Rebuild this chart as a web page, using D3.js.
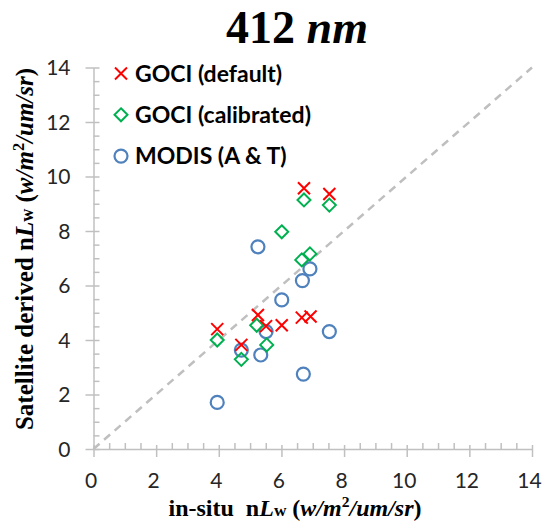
<!DOCTYPE html>
<html>
<head>
<meta charset="utf-8">
<script src="https://cdn.jsdelivr.net/npm/d3@7"></script>
<style>
  body { margin: 0; background: #fff; }
  svg { display: block; }
  .tick text { font-family: Lato, "Open Sans", sans-serif; font-size: 21px; fill: #262626; }
  .axis path, .axis line { stroke: #c0c0c0; stroke-width: 1.5; }
</style>
</head>
<body>
<div id="chart"></div>
<script>
// data
var seriesNames = ['GOCI (default)', 'GOCI (calibrated)', 'MODIS (A & T)'];
var insituDefault = [6.72, 7.53, 3.95, 4.72, 5.25, 5.51, 6.01, 6.65, 6.93];
var satDefault    = [9.57, 9.36, 4.40, 3.82, 4.92, 4.51, 4.54, 4.82, 4.86];
var insituCalib   = [6.72, 7.53, 6.01, 6.65, 6.91, 3.95, 4.72, 5.21, 5.53];
var satCalib      = [9.14, 8.95, 7.97, 6.94, 7.16, 4.00, 3.29, 4.54, 3.82];
var insituModis   = [5.25, 6.91, 6.67, 6.01, 5.51, 7.53, 4.72, 5.34, 6.70, 3.95];
var satModis      = [7.42, 6.61, 6.18, 5.47, 4.31, 4.31, 3.63, 3.45, 2.75, 1.71];
var majorTicks = [0, 2, 4, 6, 8, 10, 12, 14];
var axisMax = 14;

var W = 549, H = 526;
var plotLeft = 93.5, plotRight = 532, plotTop = 67.5, plotBottom = 449;

var svg = d3.select('#chart').append('svg')
  .attr('width', W)
  .attr('height', H);

var x = d3.scaleLinear().domain([0, axisMax]).range([plotLeft, plotRight]);
var y = d3.scaleLinear().domain([0, axisMax]).range([plotBottom, plotTop]);

var minorTicks = d3.range(0, axisMax + 0.01, 0.5).filter(function(v) { return v % 2 !== 0; });

// minor ticks (inside)
svg.append('g')
  .attr('class', 'axis')
  .attr('transform', 'translate(0,' + plotBottom + ')')
  .call(d3.axisTop(x).tickValues(minorTicks).tickSize(6).tickSizeOuter(0).tickFormat(''))
  .select('.domain').remove();
svg.append('g')
  .attr('class', 'axis')
  .attr('transform', 'translate(' + plotLeft + ',0)')
  .call(d3.axisRight(y).tickValues(minorTicks).tickSize(6).tickSizeOuter(0).tickFormat(''))
  .select('.domain').remove();

// major axes
var gx = svg.append('g')
  .attr('class', 'axis')
  .attr('transform', 'translate(0,' + plotBottom + ')')
  .call(d3.axisBottom(x).tickValues(majorTicks).tickSize(8).tickSizeOuter(0).tickPadding(16));
gx.selectAll('.tick line').attr('y1', -4);
gx.selectAll('.tick text').attr('dx', -3);

var gy = svg.append('g')
  .attr('class', 'axis')
  .attr('transform', 'translate(' + plotLeft + ',0)')
  .call(d3.axisLeft(y).tickValues(majorTicks).tickSize(8).tickSizeOuter(0).tickPadding(15));
gy.selectAll('.tick line').attr('x1', 6);
gy.selectAll('.tick text').attr('dy', '0.34em');

// 1:1 line
svg.append('line')
  .attr('x1', x(0)).attr('y1', y(0))
  .attr('x2', x(axisMax)).attr('y2', y(axisMax))
  .attr('stroke', '#bfbfbf')
  .attr('stroke-width', 2.5)
  .attr('stroke-dasharray', '8,6');

// markers
function cross(g, cx, cy) {
  var s = 6;
  g.append('path')
    .attr('d', 'M' + (cx - s) + ',' + (cy - s) + 'L' + (cx + s) + ',' + (cy + s) +
               'M' + (cx - s) + ',' + (cy + s) + 'L' + (cx + s) + ',' + (cy - s))
    .attr('stroke', '#ff0000').attr('stroke-width', 2).attr('fill', 'none');
}
function diamond(g, cx, cy) {
  var s = 6.5;
  g.append('path')
    .attr('d', 'M' + cx + ',' + (cy - s) + 'L' + (cx + s) + ',' + cy + 'L' + cx + ',' + (cy + s) + 'L' + (cx - s) + ',' + cy + 'Z')
    .attr('stroke', '#00b050').attr('stroke-width', 2).attr('fill', 'none');
}
function circle(g, cx, cy) {
  g.append('circle')
    .attr('cx', cx).attr('cy', cy).attr('r', 6.5)
    .attr('stroke', '#4f81bd').attr('stroke-width', 2.2).attr('fill', 'none');
}

var pts = svg.append('g');
insituModis.forEach(function(v, i) { circle(pts, x(v), y(satModis[i])); });
insituCalib.forEach(function(v, i) { diamond(pts, x(v), y(satCalib[i])); });
insituDefault.forEach(function(v, i) { cross(pts, x(v), y(satDefault[i])); });

// legend
var markers = [cross, diamond, circle];
var legend = svg.append('g');
seriesNames.forEach(function(name, i) {
  var cy = 73.5 + i * 41.3;
  markers[i](legend, 121, cy);
  legend.append('text')
    .attr('x', 135).attr('y', cy + 8)
    .attr('font-family', 'Lato, "Open Sans", sans-serif')
    .attr('font-weight', 'bold')
    .attr('font-size', 23)
    .attr('fill', '#000')
    .text(name);
});

// title
var title = svg.append('text')
  .attr('x', 297).attr('y', 43)
  .attr('text-anchor', 'middle')
  .attr('font-family', '"Liberation Serif", "Times New Roman", serif')
  .attr('font-weight', 'bold')
  .attr('font-size', 46);
title.append('tspan').text('412 ');
title.append('tspan').attr('font-style', 'italic').text('nm');

// axis titles
function unitLabel(t) {
  t.append('tspan').text('n');
  t.append('tspan').attr('font-style', 'italic').text('L');
  t.append('tspan').attr('font-size', '0.72em').text('w');
  t.append('tspan').text(' (');
  t.append('tspan').attr('font-style', 'italic').text('w/m');
  t.append('tspan').attr('font-size', '0.65em').attr('dy', '-0.55em').text('2');
  t.append('tspan').attr('font-style', 'italic').attr('dy', '0.36em').text('/um/sr');
  t.append('tspan').text(')');
}

var xt = svg.append('text')
  .attr('x', 295).attr('y', 516)
  .attr('text-anchor', 'middle')
  .attr('font-family', '"Liberation Serif", "Times New Roman", serif')
  .attr('font-weight', 'bold')
  .attr('font-size', 24);
xt.append('tspan').text('in-situ\u00a0\u00a0');
unitLabel(xt);

var yt = svg.append('text')
  .attr('transform', 'translate(33,249) rotate(-90)')
  .attr('text-anchor', 'middle')
  .attr('font-family', '"Liberation Serif", "Times New Roman", serif')
  .attr('font-weight', 'bold')
  .attr('font-size', 25);
yt.append('tspan').text('Satellite derived ');
unitLabel(yt);
</script>
</body>
</html>
